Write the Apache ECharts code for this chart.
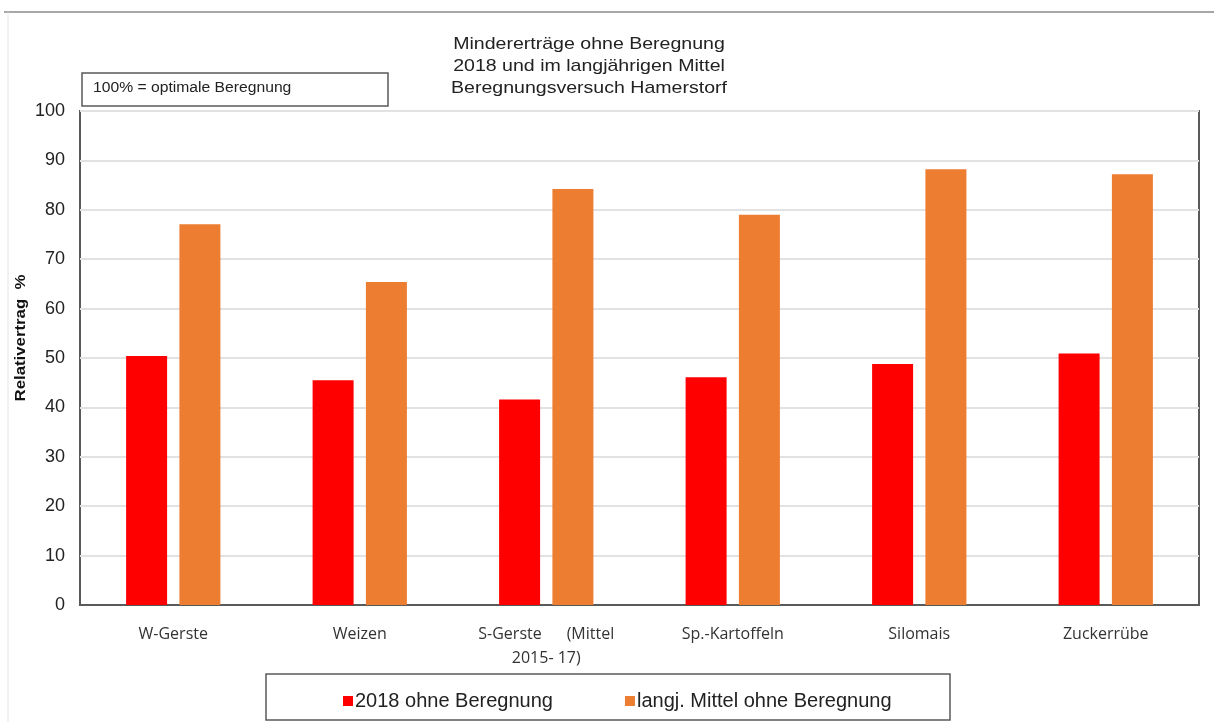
<!DOCTYPE html>
<html>
<head>
<meta charset="utf-8">
<script src="https://cdn.jsdelivr.net/npm/echarts@6/dist/echarts.min.js"></script>
<style>
  html, body { margin: 0; padding: 0; background: #fff; }
  #main { width: 1214px; height: 722px; }
</style>
</head>
<body>
<div id="main"></div>
<script>
// Kulturen
var categories = ['W-Gerste', 'Weizen', 'S-Gerste      (Mittel\n2015- 17)', 'Sp.-Kartoffeln', 'Silomais', 'Zuckerrübe'];
// Relativertrag in % (100% = optimale Beregnung)
var ohne2018 = [50.4, 45.5, 41.6, 46.1, 48.8, 50.9];
var langjMittel = [77.1, 65.4, 84.2, 79.0, 88.2, 87.2];
var seriesNames = ['2018 ohne Beregnung', 'langj. Mittel ohne Beregnung'];

var chart = echarts.init(document.getElementById('main'));

var option = {
  backgroundColor: '#ffffff',
  color: ['#ff0000', '#ed7d31'],
  animation: false,
  grid: {
    left: 80,
    right: 15,
    top: 111,
    bottom: 117,
    show: true,
    borderColor: '#5a5a5a',
    borderWidth: 2,
    containLabel: false
  },
  legend: {
    data: seriesNames,
    left: 338,
    top: 686,
    itemWidth: 10,
    itemHeight: 10,
    itemGap: 72,
    icon: 'rect',
    textStyle: {
      fontFamily: 'Liberation Sans, Arial',
      fontSize: 20,
      color: '#222',
      padding: [0, 0, 0, -3]
    }
  },
  xAxis: {
    type: 'category',
    data: categories,
    axisTick: { show: false },
    axisLine: { lineStyle: { color: '#5a5a5a', width: 2 } },
    axisLabel: {
      fontFamily: 'Open Sans',
      fontSize: 16,
      color: '#333',
      margin: 17,
      lineHeight: 24
    }
  },
  yAxis: {
    type: 'value',
    min: 0,
    max: 100,
    interval: 10,
    axisLine: { show: false },
    axisTick: { show: false },
    axisLabel: {
      fontFamily: 'Liberation Sans, Arial',
      fontSize: 18,
      color: '#222',
      margin: 15
    },
    splitLine: { lineStyle: { color: '#e2e2e2', width: 2 } }
  },
  series: [
    {
      name: seriesNames[0],
      type: 'bar',
      data: ohne2018,
      barWidth: 41,
      barGap: '30%'
    },
    {
      name: seriesNames[1],
      type: 'bar',
      data: langjMittel,
      barWidth: 41,
      barGap: '30%'
    }
  ],
  graphic: [
    // Rahmenlinien
    { type: 'line', shape: { x1: 4, y1: 12, x2: 1214, y2: 12 }, style: { stroke: '#8a8a8a', lineWidth: 1.5 } },
    { type: 'line', shape: { x1: 8, y1: 12, x2: 8, y2: 722 }, style: { stroke: '#e4e4e4', lineWidth: 1 } },
    // Titel
    {
      type: 'text',
      x: 589, y: 33,
      scaleX: 1.15,
      style: {
        text: 'Mindererträge ohne Beregnung\n2018 und im langjährigen Mittel\nBeregnungsversuch Hamerstorf',
        font: '17px "Liberation Sans", Arial',
        fill: '#222',
        align: 'center',
        lineHeight: 22
      }
    },
    // Hinweisbox
    { type: 'rect', shape: { x: 82, y: 73, width: 306, height: 33 }, style: { fill: '#fff', stroke: '#5a5a5a', lineWidth: 1.5 } },
    { type: 'text', x: 93, y: 81, scaleX: 1.12, style: { text: '100% = optimale Beregnung', font: '14px "Liberation Sans", Arial', fill: '#222' } },
    // Achsentitel
    {
      type: 'text',
      x: 21, y: 338,
      rotation: Math.PI / 2,
      scaleX: 1.2,
      style: {
        text: 'Relativertrag  %',
        font: 'bold 14px "Liberation Sans", Arial',
        fill: '#111',
        align: 'center',
        verticalAlign: 'middle'
      }
    },
    // Legendenrahmen
    { type: 'rect', z: -1, shape: { x: 266, y: 674, width: 684, height: 46 }, style: { fill: '#fff', stroke: '#5a5a5a', lineWidth: 1.5 } }
  ]
};

chart.setOption(option);
</script>
</body>
</html>
